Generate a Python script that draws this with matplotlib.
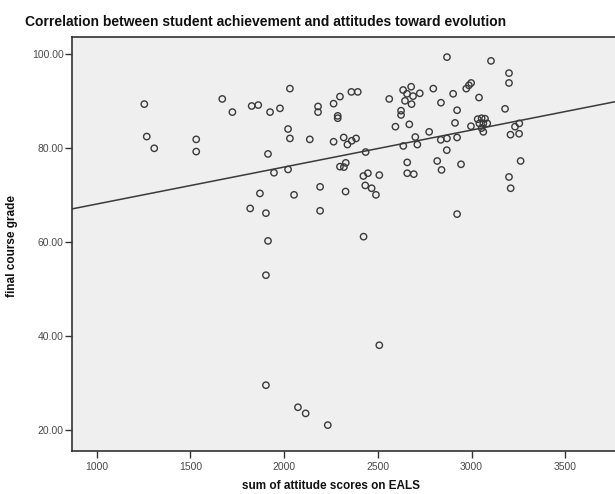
import numpy as np
import matplotlib
matplotlib.use("Agg")
import matplotlib.pyplot as plt

plt.rcParams['font.family'] = ['Liberation Sans', 'DejaVu Sans']

title = "Correlation between student achievement and attitudes toward evolution"
x_label = "sum of attitude scores on EALS"
y_label = "final course grade"

x_ticks = [1000, 1500, 2000, 2500, 3000, 3500]
y_ticks = [20, 40, 60, 80, 100]

eals = [1254, 1267, 1307, 1531, 1531, 1670, 1724, 1827, 1862, 1925,
        1978, 2031, 2021, 2031, 1914, 2137, 1946, 2021, 1871, 2053,
        1819, 1903, 1914, 1903, 1903, 2074, 2115, 2233, 2192, 2192,
        2181, 2181, 2264, 2298, 2286, 2286, 2264, 2318, 2338, 2361,
        2384, 2298, 2319, 2329, 2328, 2359, 2393, 2435, 2423, 2447,
        2508, 2433, 2467, 2490, 2424, 2508, 2561, 2594, 2624, 2624,
        2635, 2678, 2656, 2688, 2724, 2645, 2680, 2796, 2902, 2837,
        2972, 2986, 2998, 3040, 2923, 2668, 2912, 2997, 2774, 2700,
        2711, 2636, 2836, 2869, 2923, 2868, 2657, 2817, 2840, 2944,
        2657, 2692, 2923, 2869, 3104, 3033, 3054, 3072, 3042, 3063,
        3084, 3054, 3063, 3200, 3200, 3179, 3232, 3255, 3208, 3254,
        3262, 3200, 3209]

grade = [89.4, 82.5, 80.0, 81.9, 79.3, 90.5, 87.7, 89.0, 89.2, 87.7,
         88.5, 92.7, 84.1, 82.1, 78.8, 81.9, 74.8, 75.5, 70.4, 70.1,
         67.2, 66.2, 60.3, 53.0, 29.6, 24.9, 23.6, 21.1, 71.8, 66.7,
         88.9, 87.7, 89.5, 91.0, 86.9, 86.4, 81.4, 82.3, 80.8, 81.6,
         82.1, 76.1, 76.0, 76.9, 70.8, 92.0, 92.0, 79.2, 74.1, 74.7,
         74.3, 72.1, 71.5, 70.1, 61.2, 38.1, 90.5, 84.6, 88.0, 87.1,
         92.4, 93.1, 91.6, 91.1, 91.7, 90.1, 89.4, 92.7, 91.6, 89.7,
         92.7, 93.4, 93.9, 90.8, 88.1, 85.1, 85.4, 84.7, 83.5, 82.4,
         80.8, 80.5, 81.8, 82.1, 82.3, 79.6, 77.0, 77.3, 75.4, 76.6,
         74.7, 74.5, 66.0, 99.4, 98.6, 86.2, 86.4, 86.3, 85.3, 85.3,
         85.3, 84.3, 83.5, 96.0, 93.9, 88.4, 84.6, 85.3, 82.9, 83.1,
         77.3, 73.9, 71.5]

# Fit line as drawn in the reference (intercept at x=0, slope)
fit_intercept = 60.27
fit_slope = 0.00787

fig = plt.figure(figsize=(6.15, 4.94), dpi=100)
fig.patch.set_facecolor('white')
ax = fig.add_axes([72/615, 1-451/494, (622-72)/615, (451-36.7)/494])
ax.set_facecolor('#efefef')

x0 = 1000 + (72 - 96.7) * 5.336
x1 = 1000 + (622 - 96.7) * 5.336
ax.set_xlim(x0, x1)
ax.set_ylim(100 - (451 - 54.3) / 4.7, 100 + (54.3 - 36.7) / 4.7)

ax.scatter(eals, grade, s=21, facecolors='none', edgecolors='#3a3a3a',
           linewidths=1.0, zorder=3)

xs = np.array([x0, x1])
ax.plot(xs, fit_intercept + fit_slope * xs, color='#3a3a3a', lw=1.1, zorder=2)

ax.set_xticks(x_ticks)
ax.set_xticklabels([str(t) for t in x_ticks])
ax.set_yticks(y_ticks)
ax.set_yticklabels([f"{t:.2f}" for t in y_ticks])
ax.tick_params(axis='both', direction='out', length=5, width=1,
               color='#333333', labelsize=7.5, labelcolor='#4a4a4a')
ax.tick_params(axis='x', pad=3)
ax.tick_params(axis='y', pad=1)

for side in ['left', 'bottom', 'top']:
    ax.spines[side].set_color('#333333')
    ax.spines[side].set_linewidth(1.2)
ax.spines['right'].set_visible(False)

fig.text(25/615, 1-22/494, title, ha='left', va='center',
         fontsize=10, fontweight='bold', color='#111111')
fig.text(331/615, 1-486/494, x_label, ha='center', va='center',
         fontsize=8.5, fontweight='bold', color='#111111')
fig.text(12/615, 1-246/494, y_label, ha='center', va='center',
         rotation=90, fontsize=8.5, fontweight='bold', color='#111111')

fig.savefig('out.png', dpi=100, facecolor='white')
